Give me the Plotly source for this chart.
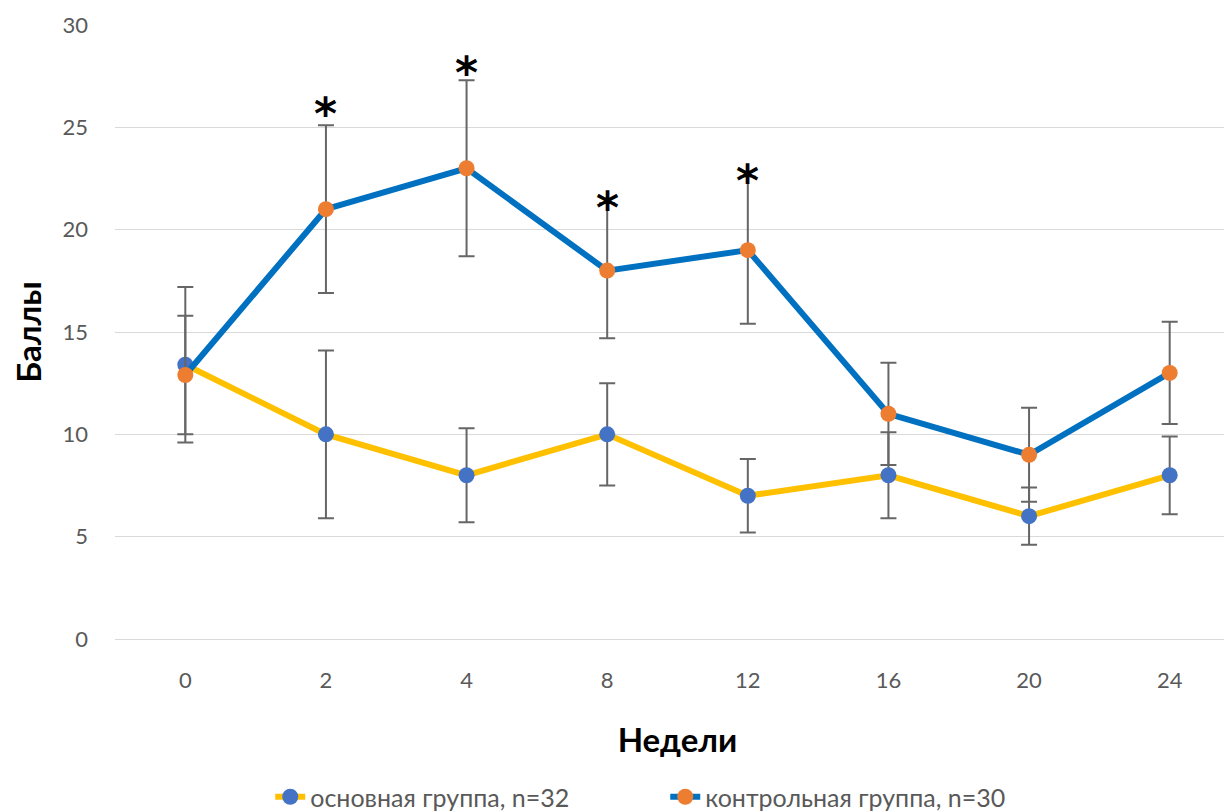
import plotly.graph_objects as go

weeks = ["0", "2", "4", "8", "12", "16", "20", "24"]
main_vals = [13.4, 10, 8, 10, 7, 8, 6, 8]
main_err = [3.8, 4.1, 2.3, 2.5, 1.8, 2.1, 1.4, 1.9]
ctrl_vals = [12.9, 21, 23, 18, 19, 11, 9, 13]
ctrl_err = [2.9, 4.1, 4.3, 3.3, 3.6, 2.5, 2.3, 2.5]
star_weeks = ["2", "4", "8", "12"]
star_y = [26.1, 28.1, 21.5, 22.8]

font_family = "Lato, 'Open Sans', sans-serif"
grey = "#595959"

fig = go.Figure()
fig.add_trace(go.Scatter(
    x=weeks, y=main_vals, name="основная группа, n=32", mode="lines+markers",
    line=dict(color="#FFC000", width=6),
    marker=dict(color="#4472C4", size=16),
    error_y=dict(type="data", array=main_err, color="#666666", thickness=2, width=8),
))
fig.add_trace(go.Scatter(
    x=weeks, y=ctrl_vals, name="контрольная группа, n=30", mode="lines+markers",
    line=dict(color="#0070C0", width=6),
    marker=dict(color="#ED7D31", size=16),
    error_y=dict(type="data", array=ctrl_err, color="#666666", thickness=2, width=8),
))

for w, sy in zip(star_weeks, star_y):
    i = weeks.index(w)
    fig.add_annotation(x=i, y=sy, text="<b>*</b>", showarrow=False,
                       yanchor="bottom", yshift=-36,
                       font=dict(size=44, color="black", family="DejaVu Sans"))

fig.update_layout(
    width=1232, height=812,
    margin=dict(l=107, r=0, t=17, b=179),
    plot_bgcolor="white", paper_bgcolor="white",
    font=dict(family=font_family, color=grey, size=22),
    showlegend=True,
    legend=dict(orientation="h", x=0.138, xanchor="left", y=-0.258, yanchor="middle",
                font=dict(size=25, color=grey), entrywidth=350, tracegroupgap=0),
    xaxis=dict(
        type="category", range=[-0.5, 7.5], showgrid=False, showline=False, ticks="",
        tickfont=dict(size=22, color=grey), ticklabelstandoff=26, automargin=False,
        title=dict(text="<b>Недели</b>", font=dict(size=33, color="black"), standoff=36),
    ),
    yaxis=dict(
        range=[0, 30], dtick=5, showgrid=True, gridcolor="#D9D9D9", gridwidth=1,
        zeroline=True, zerolinecolor="#D9D9D9", zerolinewidth=1, showline=False, ticks="",
        tickfont=dict(size=22, color=grey), ticklabelstandoff=26, automargin=False,
        title=dict(text="<b>Баллы</b>", font=dict(size=33, color="black"), standoff=20),
    ),
)

fig.write_html("out.html")
